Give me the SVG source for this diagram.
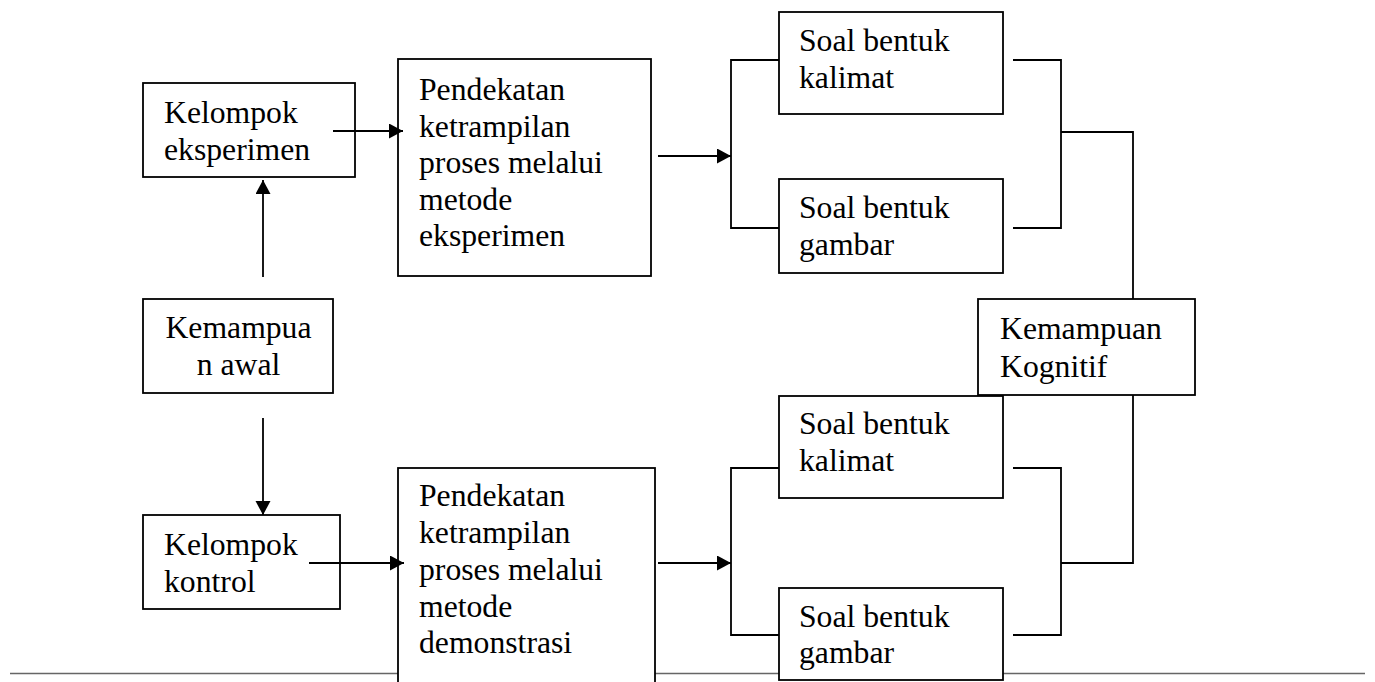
<svg xmlns="http://www.w3.org/2000/svg" width="1375" height="682" viewBox="0 0 1375 682">
<style>
.box{fill:#fff;stroke:#000;stroke-width:1.8}
.t{font-family:"Liberation Serif","Times New Roman",serif;font-size:31.7px;fill:#000}
.c{fill:none;stroke:#000;stroke-width:1.8}
</style>
<defs>
<marker id="ah" markerUnits="userSpaceOnUse" markerWidth="15" markerHeight="16" refX="14" refY="7.5" orient="auto">
<path d="M0,0 L14,7.5 L0,15 z" fill="#000"/>
</marker>
</defs>
<rect width="1375" height="682" fill="#fff"/>
<line x1="10" y1="673.5" x2="1365" y2="673.5" stroke="#666" stroke-width="1.5"/>
<g id="kelompok-eksperimen">
<rect class="box" x="143" y="83" width="212" height="94"/>
<text class="t" x="164" y="123">Kelompok</text>
<text class="t" x="164" y="160">eksperimen</text>
</g>
<g id="kemampuan-awal">
<rect class="box" x="143" y="299" width="190" height="94"/>
<text class="t" x="238.5" y="338" text-anchor="middle">Kemampua</text>
<text class="t" x="238.5" y="375" text-anchor="middle">n awal</text>
</g>
<g id="kelompok-kontrol">
<rect class="box" x="143" y="515" width="197" height="94"/>
<text class="t" x="164" y="555">Kelompok</text>
<text class="t" x="164" y="592">kontrol</text>
</g>
<g id="pendekatan-eksperimen">
<rect class="box" x="398" y="59" width="253" height="217"/>
<text class="t" x="419" y="100">Pendekatan</text>
<text class="t" x="419" y="137">ketrampilan</text>
<text class="t" x="419" y="173">proses melalui</text>
<text class="t" x="419" y="210">metode</text>
<text class="t" x="419" y="246">eksperimen</text>
</g>
<g id="pendekatan-demonstrasi">
<rect class="box" x="398" y="468" width="257" height="240"/>
<text class="t" x="419" y="506">Pendekatan</text>
<text class="t" x="419" y="543">ketrampilan</text>
<text class="t" x="419" y="580">proses melalui</text>
<text class="t" x="419" y="617">metode</text>
<text class="t" x="419" y="653">demonstrasi</text>
</g>
<g id="soal-kalimat-1">
<rect class="box" x="779" y="12" width="224" height="102"/>
<text class="t" x="799" y="51">Soal bentuk</text>
<text class="t" x="799" y="88">kalimat</text>
</g>
<g id="soal-gambar-1">
<rect class="box" x="779" y="179" width="224" height="94"/>
<text class="t" x="799" y="218">Soal bentuk</text>
<text class="t" x="799" y="255">gambar</text>
</g>
<g id="kemampuan-kognitif">
<rect class="box" x="978" y="299" width="217" height="96"/>
<text class="t" x="1000" y="339">Kemampuan</text>
<text class="t" x="1000" y="377">Kognitif</text>
</g>
<g id="soal-kalimat-2">
<rect class="box" x="779" y="396" width="224" height="102"/>
<text class="t" x="799" y="434">Soal bentuk</text>
<text class="t" x="799" y="471">kalimat</text>
</g>
<g id="soal-gambar-2">
<rect class="box" x="779" y="588" width="224" height="92"/>
<text class="t" x="799" y="627">Soal bentuk</text>
<text class="t" x="799" y="663">gambar</text>
</g>
<g id="connectors">
<line class="c" x1="333" y1="131" x2="403" y2="131" marker-end="url(#ah)"/>
<line class="c" x1="263" y1="277" x2="263" y2="180" marker-end="url(#ah)"/>
<line class="c" x1="263" y1="418" x2="263" y2="515" marker-end="url(#ah)"/>
<line class="c" x1="309" y1="563" x2="404" y2="563" marker-end="url(#ah)"/>
<line class="c" x1="658" y1="156" x2="731" y2="156" marker-end="url(#ah)"/>
<polyline class="c" points="779,60 731,60 731,228 779,228"/>
<polyline class="c" points="1013,60 1061,60 1061,228 1013,228"/>
<polyline class="c" points="1061,132 1133,132 1133,299"/>
<line class="c" x1="658" y1="563" x2="731" y2="563" marker-end="url(#ah)"/>
<polyline class="c" points="779,468 731,468 731,635 779,635"/>
<polyline class="c" points="1013,468 1061,468 1061,635 1013,635"/>
<polyline class="c" points="1061,563 1133,563 1133,395"/>
</g>
</svg>
